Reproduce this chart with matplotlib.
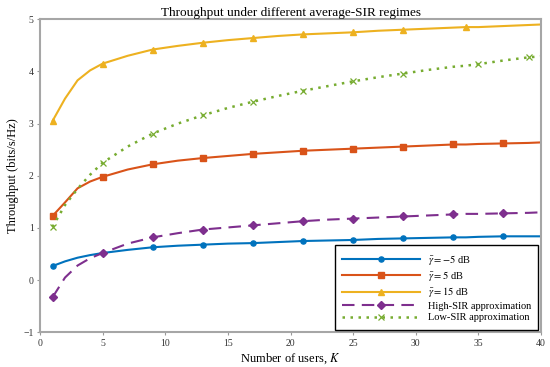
import matplotlib
matplotlib.use('Agg')
import matplotlib.pyplot as plt

# Данные
K = [1, 2, 3, 4, 5, 7, 9, 11, 13, 15, 17, 19, 21, 23, 25, 27, 29, 31, 33, 34, 35, 37, 39, 40]

thr_m5 = [0.27, 0.36, 0.43, 0.48, 0.52, 0.58, 0.63, 0.66, 0.68, 0.70, 0.71, 0.73, 0.75, 0.76,
          0.77, 0.79, 0.80, 0.81, 0.82, 0.82, 0.83, 0.84, 0.84, 0.84]
thr_5 = [1.23, 1.49, 1.76, 1.89, 1.98, 2.12, 2.22, 2.29, 2.34, 2.38, 2.42, 2.45, 2.48, 2.50,
         2.52, 2.54, 2.56, 2.58, 2.60, 2.60, 2.61, 2.62, 2.63, 2.64]
thr_15 = [3.05, 3.48, 3.83, 4.02, 4.15, 4.30, 4.42, 4.49, 4.55, 4.60, 4.64, 4.68, 4.71, 4.73,
          4.75, 4.78, 4.80, 4.82, 4.84, 4.85, 4.85, 4.87, 4.89, 4.90]
high_sir = [-0.33, 0.05, 0.28, 0.42, 0.52, 0.70, 0.82, 0.90, 0.97, 1.01, 1.05, 1.09, 1.13, 1.16,
            1.18, 1.20, 1.22, 1.24, 1.26, 1.27, 1.27, 1.28, 1.29, 1.30]
low_sir = [1.02, 1.44, 1.75, 2.02, 2.25, 2.56, 2.81, 3.00, 3.16, 3.30, 3.42, 3.53, 3.63, 3.72,
           3.81, 3.89, 3.96, 4.03, 4.09, 4.11, 4.14, 4.21, 4.27, 4.29]

labels = [r'$\bar{\gamma} = -5$ dB', r'$\bar{\gamma} = 5$ dB', r'$\bar{\gamma} = 15$ dB',
          'High-SIR approximation', 'Low-SIR approximation']

# маркеры: каждые 4 точки по K
k_marks = [1, 5, 9, 13, 17, 21, 25, 29, 33, 37]
k_marks_15 = [1, 5, 9, 13, 17, 21, 25, 29, 34]
k_marks_low = [1, 5, 9, 13, 17, 21, 25, 29, 35, 39]
idx = lambda ks: [K.index(k) for k in ks]

plt.rcParams['font.family'] = ['Liberation Serif', 'DejaVu Serif']
plt.rcParams['mathtext.fontset'] = 'stix'

fig = plt.figure(figsize=(5.5, 3.67), dpi=100)
ax = fig.add_axes([0.0727, 0.0945, 0.911, 0.853])

ax.plot(K, thr_m5, color='#0072BD', lw=1.5, marker='o', ms=3.7, markevery=idx(k_marks), label=labels[0])
ax.plot(K, thr_5, color='#D95319', lw=1.5, marker='s', ms=3.7, markevery=idx(k_marks), label=labels[1])
ax.plot(K, thr_15, color='#EDB120', lw=1.5, marker='^', ms=3.7, markevery=idx(k_marks_15), label=labels[2])
ax.plot(K, high_sir, color='#7E2F8E', lw=1.5, ls=(0, (6, 3.5)), marker='D', ms=3.7,
        markevery=idx(k_marks), label=labels[3])
ax.plot(K, low_sir, color='#77AC30', lw=1.8, ls=(0, (1, 2.2)), marker='x', ms=3.7, mew=0.9,
        markevery=idx(k_marks_low), label=labels[4])

ax.set_xlim(0, 40)
ax.set_ylim(-1, 5)
ax.set_xticks(range(0, 41, 5))
ax.set_yticks(range(-1, 6))
ax.set_yticklabels(['\u22121', '0', '1', '2', '3', '4', '5'])
ax.tick_params(labelsize=7, length=2.5, width=0.8, color='#999999', labelcolor='#333333', pad=2)

for s in ax.spines.values():
    s.set_color('#a6a6a6')
    s.set_linewidth(1.5)

ax.set_title('Throughput under different average-SIR regimes', fontsize=9.5, pad=2)
ax.set_xlabel('Number of users, $K$', fontsize=9, labelpad=3)
ax.set_ylabel('Throughput (bits/s/Hz)', fontsize=9, labelpad=3)

leg = ax.legend(loc='lower right', fontsize=7.5, fancybox=False, framealpha=1,
                edgecolor='black', handlelength=7.4, handletextpad=0.8, borderpad=0.7,
                labelspacing=0.22, borderaxespad=0.25)
leg.get_frame().set_linewidth(1.0)

fig.savefig('out.png', dpi=100)
